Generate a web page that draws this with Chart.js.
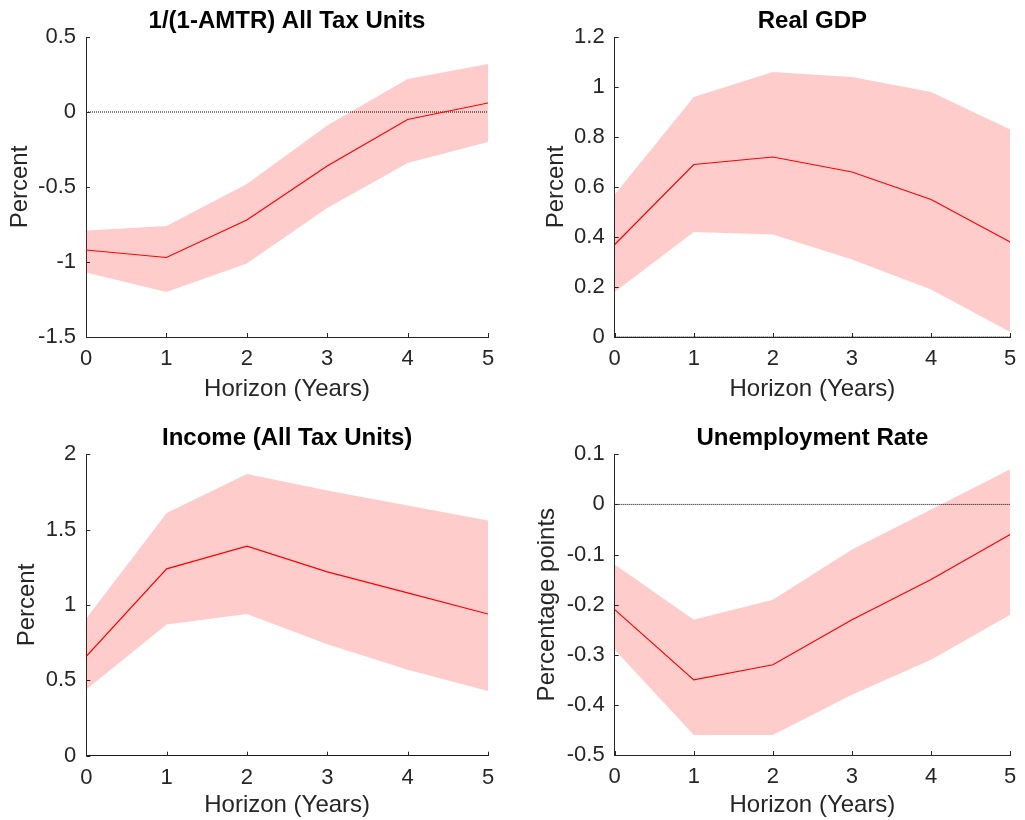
<!DOCTYPE html>
<html>
<head>
<meta charset="utf-8">
<script src="https://cdn.jsdelivr.net/npm/chart.js@4.4.1/dist/chart.umd.min.js"></script>
<style>
  body { margin: 0; background: #fff; }
  #wrap { position: relative; width: 1025px; height: 820px; }
  canvas { position: absolute; }
</style>
</head>
<body>
<div id="wrap">
  <canvas id="amtr" width="512" height="410" style="left:0;top:0"></canvas>
  <canvas id="gdp" width="513" height="410" style="left:512px;top:0"></canvas>
  <canvas id="income" width="512" height="410" style="left:0;top:410px"></canvas>
  <canvas id="ur" width="513" height="410" style="left:512px;top:410px"></canvas>
</div>
<script>
// Горизонт, годы
const horizon = [0, 1, 2, 3, 4, 5];

// 1/(1-AMTR) All Tax Units
const amtrMedian = [-0.92, -0.97, -0.72, -0.36, -0.05, 0.06];
const amtrUpper  = [-0.79, -0.76, -0.48, -0.09, 0.22, 0.32];
const amtrLower  = [-1.07, -1.20, -1.01, -0.64, -0.34, -0.20];

// Real GDP
const gdpMedian = [0.37, 0.69, 0.72, 0.66, 0.55, 0.38];
const gdpUpper  = [0.57, 0.96, 1.06, 1.04, 0.98, 0.83];
const gdpLower  = [0.18, 0.42, 0.41, 0.31, 0.19, 0.02];

// Income (All Tax Units)
const incomeMedian = [0.66, 1.24, 1.39, 1.22, 1.08, 0.94];
const incomeUpper  = [0.91, 1.61, 1.87, 1.76, 1.66, 1.56];
const incomeLower  = [0.44, 0.87, 0.94, 0.74, 0.57, 0.43];

// Unemployment Rate
const urMedian = [-0.21, -0.35, -0.32, -0.23, -0.15, -0.06];
const urUpper  = [-0.12, -0.23, -0.19, -0.09, -0.01, 0.07];
const urLower  = [-0.29, -0.46, -0.46, -0.38, -0.31, -0.22];

const axisColor = '#262626';
const font = 'Liberation Sans, Arial, Helvetica, sans-serif';

const toPoints = vals => vals.map((v, i) => ({ x: horizon[i], y: v }));

// Внутренние засечки как в MATLAB
const inwardTicks = {
  id: 'inwardTicks',
  afterDraw(chart) {
    const { ctx, chartArea, scales } = chart;
    ctx.save();
    ctx.strokeStyle = axisColor;
    ctx.lineWidth = 1;
    ctx.beginPath();
    scales.x.ticks.forEach(t => {
      const px = Math.round(scales.x.getPixelForValue(t.value)) + 0.5;
      ctx.moveTo(px, chartArea.bottom);
      ctx.lineTo(px, chartArea.bottom - 4);
    });
    scales.y.ticks.forEach(t => {
      const py = Math.round(scales.y.getPixelForValue(t.value)) + 0.5;
      ctx.moveTo(chartArea.left, py);
      ctx.lineTo(chartArea.left + 4, py);
    });
    ctx.stroke();
    ctx.restore();
  }
};

function makePanel(id, p) {
  return new Chart(document.getElementById(id), {
    type: 'line',
    data: {
      datasets: [
        {
          data: toPoints(p.median),
          borderColor: '#ff0000',
          borderWidth: 1.2,
          pointRadius: 0,
          fill: false,
          order: 0
        },
        {
          data: toPoints(horizon.map(() => 0)),
          borderColor: '#000000',
          borderWidth: 1,
          borderDash: [1, 1],
          pointRadius: 0,
          fill: false,
          order: 1
        },
        {
          data: toPoints(p.upper),
          borderWidth: 0,
          borderColor: 'rgba(0,0,0,0)',
          backgroundColor: 'rgba(255, 0, 0, 0.2)',
          pointRadius: 0,
          fill: 3,
          order: 2
        },
        {
          data: toPoints(p.lower),
          borderWidth: 0,
          borderColor: 'rgba(0,0,0,0)',
          pointRadius: 0,
          fill: false,
          order: 3
        }
      ]
    },
    options: {
      responsive: false,
      animation: false,
      layout: { autoPadding: false, padding: { left: 0, right: p.padRight, top: 0, bottom: 0 } },
      plugins: {
        legend: { display: false },
        tooltip: { enabled: false },
        title: {
          display: true,
          text: p.title,
          fullSize: false,
          color: '#000',
          font: { family: font, size: 24, weight: 'bold', lineHeight: 1.2 },
          padding: { top: p.titleTop, bottom: p.titleBottom }
        }
      },
      scales: {
        x: {
          type: 'linear',
          min: 0,
          max: 5,
          afterFit: s => { s.height = p.xHeight; },
          grid: { display: false, drawTicks: false },
          border: { display: true, color: axisColor, width: 1 },
          ticks: {
            stepSize: 1,
            autoSkip: false,
            maxRotation: 0,
            padding: 8.7,
            color: axisColor,
            font: { family: font, size: 22, lineHeight: 1.2 }
          },
          title: {
            display: true,
            text: 'Horizon (Years)',
            color: axisColor,
            font: { family: font, size: 24, lineHeight: 1.2 },
            padding: { top: 0, bottom: p.xTitleBottom }
          }
        },
        y: {
          min: p.yMin,
          max: p.yMax,
          afterFit: s => { s.width = p.yWidth; },
          grid: { display: false, drawTicks: false },
          border: { display: true, color: axisColor, width: 1 },
          ticks: {
            stepSize: p.yStep,
            autoSkip: false,
            padding: 10,
            color: axisColor,
            font: { family: font, size: 22, lineHeight: 1.2 },
            callback: v => String(Math.round(v * 100) / 100)
          },
          title: {
            display: true,
            text: p.yLabel,
            color: axisColor,
            font: { family: font, size: 24, lineHeight: 1.2 },
            padding: { top: p.yTitleTop, bottom: 0 }
          }
        }
      }
    },
    plugins: [inwardTicks]
  });
}

makePanel('amtr', {
  title: '1/(1-AMTR) All Tax Units', yLabel: 'Percent',
  median: amtrMedian, upper: amtrUpper, lower: amtrLower,
  yMin: -1.5, yMax: 0.5, yStep: 0.5,
  padRight: 24, yWidth: 86, xHeight: 73,
  titleTop: 7.1, titleBottom: 1.1, xTitleBottom: 6.6, yTitleTop: 6.4
});

makePanel('gdp', {
  title: 'Real GDP', yLabel: 'Percent',
  median: gdpMedian, upper: gdpUpper, lower: gdpLower,
  yMin: 0, yMax: 1.2, yStep: 0.2,
  padRight: 8, yWidth: 102.7, xHeight: 73,
  titleTop: 7.1, titleBottom: 1.1, xTitleBottom: 6.6, yTitleTop: 30.1
});

makePanel('income', {
  title: 'Income (All Tax Units)', yLabel: 'Percent',
  median: incomeMedian, upper: incomeUpper, lower: incomeLower,
  yMin: 0, yMax: 2, yStep: 0.5,
  padRight: 24, yWidth: 86.3, xHeight: 64.3,
  titleTop: 13.9, titleBottom: 1.6, xTitleBottom: 0, yTitleTop: 13.4
});

makePanel('ur', {
  title: 'Unemployment Rate', yLabel: 'Percentage points',
  median: urMedian, upper: urUpper, lower: urLower,
  yMin: -0.5, yMax: 0.1, yStep: 0.1,
  padRight: 8, yWidth: 102.7, xHeight: 65,
  titleTop: 13.9, titleBottom: 1.6, xTitleBottom: 0, yTitleTop: 20.7
});
</script>
</body>
</html>
